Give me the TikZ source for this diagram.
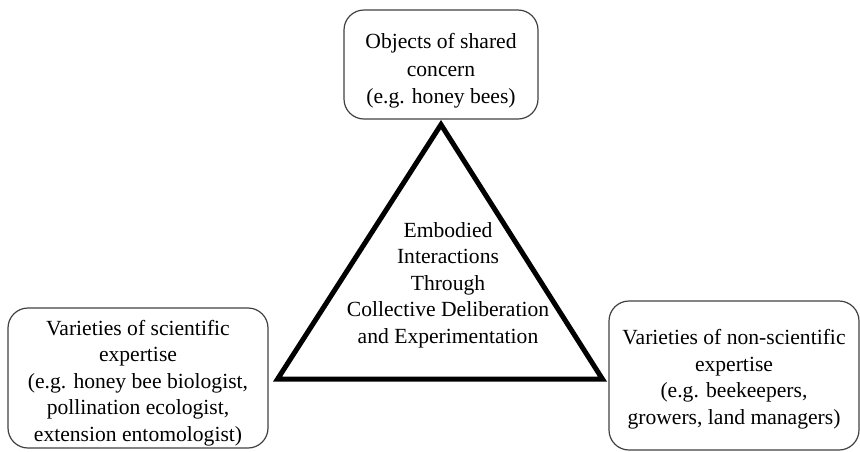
\documentclass[tikz,border=0pt]{standalone}
\usepackage{fontspec}
\setmainfont{Liberation Serif}
\newcommand{\lift}[1]{\rule{0pt}{\dimexpr15pt+#1\relax}}

\begin{document}
\begin{tikzpicture}[x=1pt,y=-1pt,
  every node/.style={font=\fontsize{21.6}{26.5}\selectfont,align=center},
  box/.style={draw=black!75,line width=1.2pt,rounded corners=20pt,inner sep=0pt}]
  \useasboundingbox (0,0) rectangle (860,451);

  \node[box,minimum width=194pt,minimum height=109pt,font=\fontsize{21.6}{27.5}\selectfont] (objects) at (441,64.5)
    {\lift{13pt}Objects of shared\\concern\\(e.g. honey bees)};
  \node[box,minimum width=260pt,minimum height=140pt] (sci) at (138,378)
    {\lift{10pt}Varieties of scientific\\expertise\\(e.g. honey bee biologist,\\pollination ecologist,\\extension entomologist)};
  \node[box,minimum width=250pt,minimum height=149pt] (nonsci) at (734,375.5)
    {\lift{8pt}Varieties of non-scientific\\expertise\\(e.g. beekeepers,\\growers, land managers)};

  \draw[line width=5pt] ([yshift=-5pt]objects.south) -- ([xshift=9pt,yshift=-1pt]sci.east)
    -- ([xshift=-6pt,yshift=-1pt]sci.east -| nonsci.west) -- cycle;
  \node (core) at (448,285)
    {Embodied\\Interactions\\Through\\Collective Deliberation\\and Experimentation};

\end{tikzpicture}
\end{document}
